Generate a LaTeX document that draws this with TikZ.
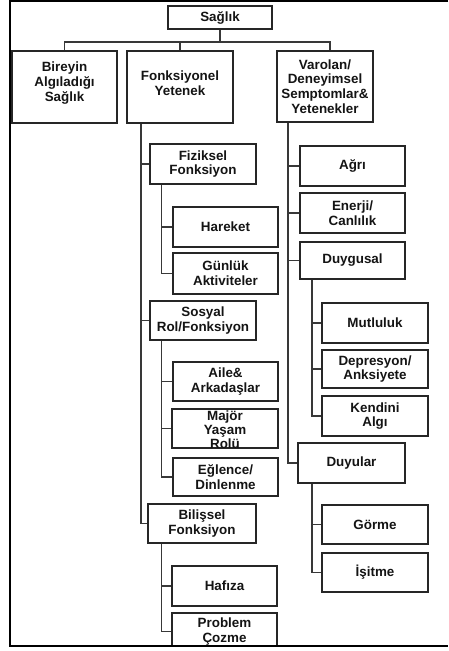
\documentclass[tikz,border=0pt]{standalone}
\usepackage{fontspec}
\setmainfont{Liberation Sans}
\newcommand{\mkbox}[6]{\node[box, minimum width={#4pt-#2pt}, minimum height={#5pt-#3pt}] (#1) at ({(#2+#4)/2},{(#3+#5)/2}) {#6};}
\begin{document}
\begin{tikzpicture}[x=1pt,y=-1pt,
  lbl/.style={inner sep=0pt, align=center, font=\fontsize{13.4}{14.8}\selectfont\bfseries, text=black!92},
  box/.style={lbl, draw=black!85, line width=1.4pt, fill=white},
  link/.style={draw=black!78, line width=1.2pt},
  frame/.style={draw=black, line width=1.6pt}]
\useasboundingbox (0,0) rectangle (448,651);

% boxes
\mkbox{saglik}{168}{6}{272}{29}{Sağlık}
\mkbox{bireyin}{12}{51}{117}{123}{}
\node[lbl] (bireyin-t) at (64.5,83) {Bireyin\\Algıladığı\\Sağlık};
\mkbox{fonks}{127}{51}{233}{123}{}
\node[lbl] (fonks-t) at (180,83) {Fonksiyonel\\Yetenek};
\mkbox{varolan}{277}{51}{373}{122}{Varolan/\\Deneyimsel\\Semptomlar\&\\Yetenekler}

\mkbox{fiziksel}{150}{144}{256}{184}{Fiziksel\\Fonksiyon}
\mkbox{hareket}{173}{207}{278}{247}{Hareket}
\mkbox{gunluk}{173}{253}{278}{294}{Günlük\\Aktiviteler}
\mkbox{sosyal}{150}{301}{256}{340}{Sosyal\\Rol/Fonksiyon}
\mkbox{aile}{173}{362}{278}{401}{Aile\&\\Arkadaşlar}
\mkbox{major}{172}{409}{278}{448}{}
\node[lbl, font=\fontsize{13.4}{14}\selectfont\bfseries] (major-t) at (225,430) {Majör\\Yaşam\\Rolü};
\mkbox{eglence}{173}{458}{278}{496}{Eğlence/\\Dinlenme}
\mkbox{bilissel}{148}{504}{256}{543}{Bilişsel\\Fonksiyon}
\mkbox{hafiza}{172}{566}{277}{606}{Hafıza}
\begin{scope}
\clip (0,0) rectangle (448,646);
\mkbox{problem}{172}{613}{277}{650}{Problem\\Çozme}
\end{scope}

\mkbox{agri}{300}{146}{405}{186}{Ağrı}
\mkbox{enerji}{300}{193}{405}{233}{Enerji/\\Canlılık}
\mkbox{duygusal}{300}{242}{405}{279}{Duygusal}
\mkbox{mutluluk}{322}{303}{428}{343}{Mutluluk}
\mkbox{depresyon}{322}{350}{428}{388}{Depresyon/\\Anksiyete}
\mkbox{kendini}{322}{396}{428}{436}{Kendini\\Algı}
\mkbox{duyular}{298}{443}{405}{483}{Duyular}
\mkbox{gorme}{322}{505}{428}{544}{Görme}
\mkbox{isitme}{322}{553}{428}{592}{İşitme}

% connectors
\coordinate (bus) at (0,42);
\coordinate (vdrop) at (330,0);
\draw[link] (saglik.south) -- (saglik.south |- bus);
\draw[link] (bireyin.north) -- (bireyin.north |- bus) -- (vdrop |- bus) -- (vdrop |- varolan.north);
\draw[link] (fonks.north) -- (fonks.north |- bus);

\coordinate (ft) at (141,0);
\coordinate (s1) at (161.5,0);
\draw[link] (ft |- fonks.south) |- (bilissel.west);
\draw[link] (ft |- fiziksel.west) -- (fiziksel.west);
\draw[link] (ft |- sosyal.west) -- (sosyal.west);
\draw[link] (s1 |- fiziksel.south) |- (gunluk.west);
\draw[link] (s1 |- hareket.west) -- (hareket.west);
\draw[link] (s1 |- sosyal.south) |- (eglence.west);
\draw[link] (s1 |- aile.west) -- (aile.west);
\draw[link] (s1 |- major.west) -- (major.west);
\draw[link] (s1 |- bilissel.south) |- (problem.west);
\draw[link] (s1 |- hafiza.west) -- (hafiza.west);

\coordinate (vt) at (288,0);
\coordinate (s2) at (312,0);
\draw[link] (vt |- varolan.south) |- (duyular.west);
\draw[link] (vt |- agri.west) -- (agri.west);
\draw[link] (vt |- enerji.west) -- (enerji.west);
\draw[link] (vt |- duygusal.west) -- (duygusal.west);
\draw[link] (s2 |- duygusal.south) |- (kendini.west);
\draw[link] (s2 |- mutluluk.west) -- (mutluluk.west);
\draw[link] (s2 |- depresyon.west) -- (depresyon.west);
\draw[link] (s2 |- duyular.south) |- (isitme.west);
\draw[link] (s2 |- gorme.west) -- (gorme.west);

% frame
\draw[frame] (448,0.8) -- (10,0.8) -- (10,646) -- (448,646);
\end{tikzpicture}
\end{document}
